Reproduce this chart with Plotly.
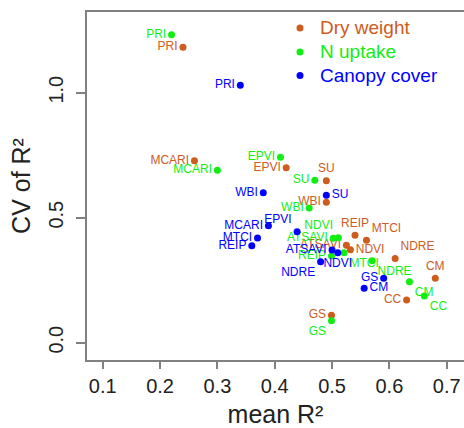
import plotly.graph_objects as go

# ---- data ----
dw_labels = ["PRI", "MCARI", "EPVI", "SU", "WBI", "REIP", "MTCI", "ATSAVI", "NDVI", "NDRE", "CM", "CC", "GS"]
dw_mean = [0.240, 0.260, 0.420, 0.490, 0.490, 0.540, 0.560, 0.525, 0.532, 0.610, 0.680, 0.630, 0.499]
dw_cv = [1.182, 0.728, 0.700, 0.648, 0.562, 0.430, 0.410, 0.390, 0.372, 0.337, 0.258, 0.171, 0.110]

nu_labels = ["PRI", "MCARI", "EPVI", "SU", "WBI", "NDVI", "ATSAVI", "REIP", "MTCI", "NDRE", "CM", "CC", "GS"]
nu_mean = [0.220, 0.300, 0.410, 0.470, 0.460, 0.511, 0.502, 0.499, 0.521, 0.570, 0.635, 0.661, 0.499]
nu_cv = [1.232, 0.690, 0.742, 0.650, 0.539, 0.420, 0.418, 0.347, 0.360, 0.328, 0.244, 0.187, 0.088]

cc_labels = ["PRI", "WBI", "SU", "MCARI", "EPVI", "MTCI", "REIP", "ATSAVI", "NDVI", "NDRE", "GS", "CM"]
cc_mean = [0.340, 0.380, 0.490, 0.389, 0.439, 0.370, 0.360, 0.500, 0.510, 0.480, 0.590, 0.556]
cc_cv = [1.030, 0.600, 0.590, 0.468, 0.444, 0.419, 0.388, 0.371, 0.360, 0.324, 0.258, 0.218]

series_names = ["Dry weight", "N uptake", "Canopy cover"]

x_ticks = [0.1, 0.2, 0.3, 0.4, 0.5, 0.6, 0.7]
y_ticks = [0.0, 0.5, 1.0]

# ---- label placement (style) ----
dw_pos = ["middle left", "middle left", "middle left", "top center", "middle left", "top center",
          "top right", "middle left", "middle right", "top right", "top center", "middle left", "middle left"]
nu_pos = ["middle left", "middle left", "middle left", "middle left", "middle left", "top left",
          "middle left", "middle left", "bottom right", "bottom right", "bottom right", "bottom right",
          "bottom left"]
cc_pos = ["middle left", "middle left", "middle right", "middle left", "top left", "middle left",
          "middle left", "middle left", "bottom center", "bottom left", "middle left", "middle right"]

C_DW = "#CD5C1D"
C_NU = "#11EE11"
C_CC = "#0000FF"
colors = [C_DW, C_NU, C_CC]
FONT = "Arial, Liberation Sans, sans-serif"

fig = go.Figure()
for name, xs, ys, labs, pos, col in [
    (series_names[0], dw_mean, dw_cv, dw_labels, dw_pos, C_DW),
    (series_names[1], nu_mean, nu_cv, nu_labels, nu_pos, C_NU),
    (series_names[2], cc_mean, cc_cv, cc_labels, cc_pos, C_CC),
]:
    fig.add_trace(go.Scatter(
        x=xs, y=ys, text=labs, mode="markers+text", textposition=pos,
        marker=dict(color=col, size=7),
        textfont=dict(color=col, size=12, family=FONT),
        name=name, showlegend=False,
        cliponaxis=False,
    ))

# ---- manual legend (paper coordinates) ----
plot_l, plot_r, plot_t, plot_b = 87, 464, 12, 360
def px2paper_x(px):
    return (px - plot_l) / (plot_r - plot_l)
def px2paper_y(py):
    return 1 - (py - plot_t) / (plot_b - plot_t)

legend_rows = [28, 52, 75.5]
for name, col, row in zip(series_names, colors, legend_rows):
    fig.add_shape(type="circle", xref="paper", yref="paper",
                  xsizemode="pixel", ysizemode="pixel",
                  xanchor=px2paper_x(300), yanchor=px2paper_y(row),
                  x0=-3.5, x1=3.5, y0=-3.5, y1=3.5,
                  fillcolor=col, line=dict(width=0))
    fig.add_annotation(xref="paper", yref="paper",
                       x=px2paper_x(318), y=px2paper_y(row),
                       xanchor="left", yanchor="middle", showarrow=False,
                       text=name, font=dict(size=19, family=FONT, color=col))

fig.update_layout(
    width=464, height=428,
    margin=dict(l=87, r=0, t=12, b=68),
    plot_bgcolor="white", paper_bgcolor="white",
    font=dict(family=FONT, color="#222222"),
    showlegend=False,
    xaxis=dict(range=[0.0726, 0.7301], tickvals=x_ticks,
               ticktext=[f"{v:.1f}" for v in x_ticks],
               showgrid=False, zeroline=False, showline=True, mirror=True,
               linecolor="#808080", linewidth=1.5,
               ticks="outside", ticklen=7, tickcolor="#808080", tickwidth=1.5,
               tickfont=dict(size=20, color="#222222"),
               title=dict(text="mean R²", font=dict(size=25, color="#222222"), standoff=15)),
    yaxis=dict(range=[-0.0692, 1.3228], tickvals=y_ticks,
               ticktext=[f"{v:.1f}" for v in y_ticks],
               showgrid=False, zeroline=False, showline=True, mirror=False,
               linecolor="#808080", linewidth=1.5,
               ticks="outside", ticklen=9, tickcolor="#808080", tickwidth=1.5,
               tickangle=-90, ticklabelstandoff=5,
               tickfont=dict(size=20, color="#222222"),
               title=dict(text="CV of R²", font=dict(size=25, color="#222222"), standoff=8)),
)

fig.write_html("out.html")
